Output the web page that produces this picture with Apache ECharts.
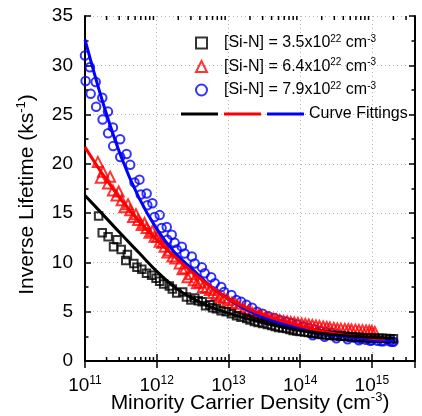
<!DOCTYPE html>
<html>
<head>
<meta charset="utf-8">
<script src="https://cdn.jsdelivr.net/npm/echarts@6/dist/echarts.min.js"></script>
<style>
html, body { margin: 0; padding: 0; background: #fff; }
#main { width: 422px; height: 416px; }
</style>
</head>
<body>
<div id="main"></div>
<script>
var font = '"Liberation Sans", Arial, sans-serif'

// [Si-N] concentrations (x10^22 cm^-3), one per sample
var siN = ['3.5', '6.4', '7.9']
var sampleNames = ['SiN 3.5', 'SiN 6.4', 'SiN 7.9']
var fitNames = ['Fit 3.5', 'Fit 6.4', 'Fit 7.9']
var colors = ['#000000', '#ff0000', '#0000ff']
var symbols = ['rect', 'triangle', 'circle']

// measured points: [carrier density (cm^-3), inverse lifetime (ks^-1)]
var blackPts = [
    [1.55e11, 14.7], [1.74e11, 13.0], [2.1e11, 12.6], [2.5e11, 11.6], [2.8e11, 12.3],
    [3.2e11, 11.3], [3.7e11, 10.2], [3.9e11, 10.8], [4.8e11, 9.9], [5.3e11, 9.5],
    [6.2e11, 9.3], [7.2e11, 8.9], [8.5e11, 8.7], [9.8e11, 8.4], [1.1e12, 8.1],
    [1.25e12, 7.8], [1.5e12, 7.6], [1.65e12, 7.3], [1.9e12, 6.9], [2.3e12, 7.0],
    [2.6e12, 6.5], [3.0e12, 6.2], [3.4e12, 6.4], [3.8e12, 6.1], [4.3e12, 6.0],
    [4.8e12, 5.6], [5.5e12, 5.7], [6.0e12, 5.4], [6.8e12, 5.3], [7.9e12, 5.1],
    [9.3e12, 5.0], [1.1e13, 4.8], [1.3e13, 4.6], [1.5e13, 4.45], [1.8e13, 4.3],
    [2.0e13, 4.15], [2.3e13, 4.0], [2.6e13, 3.9], [3.0e13, 3.8], [3.5e13, 3.7],
    [4.0e13, 3.6], [4.5e13, 3.5], [5.0e13, 3.4], [5.7e13, 3.35], [6.5e13, 3.3],
    [7.2e13, 3.2], [8.0e13, 3.1], [9.0e13, 3.05], [1.0e14, 3.0], [1.15e14, 2.95],
    [1.3e14, 2.9], [1.45e14, 2.85], [1.6e14, 2.8], [1.8e14, 2.75], [2.0e14, 2.7],
    [2.3e14, 2.65], [2.6e14, 2.6], [3.0e14, 2.57], [3.3e14, 2.55], [3.7e14, 2.52],
    [4.2e14, 2.5], [4.7e14, 2.47], [5.3e14, 2.45], [6.0e14, 2.42], [6.8e14, 2.4],
    [7.6e14, 2.37], [8.6e14, 2.35], [9.6e14, 2.33], [1.1e15, 2.3], [1.25e15, 2.3],
    [1.4e15, 2.3], [1.6e15, 2.27], [1.8e15, 2.25], [2.0e15, 2.25]
]
var redPts = [
    [1.51e11, 20.2], [1.66e11, 18.6], [1.78e11, 19.2], [2.09e11, 18.0], [2.24e11, 18.7],
    [2.45e11, 17.3], [2.75e11, 16.8], [2.95e11, 17.2], [3.24e11, 16.3], [3.55e11, 15.6],
    [3.98e11, 15.9], [4.27e11, 15.3], [4.68e11, 14.6], [5.13e11, 14.9], [5.5e11, 14.3],
    [6.17e11, 13.8], [6.76e11, 14.0], [7.24e11, 13.5], [7.94e11, 13.0], [8.7e11, 13.2],
    [9.33e11, 12.6], [1.02e12, 12.6], [1.1e12, 12.1], [1.2e12, 12.0], [1.29e12, 11.6],
    [1.41e12, 11.0], [1.51e12, 11.2], [1.66e12, 10.6], [1.82e12, 10.4], [2.09e12, 9.9],
    [2.29e12, 9.3], [2.5e12, 9.4], [2.69e12, 8.5], [2.95e12, 8.8], [3.3e12, 8.2],
    [3.63e12, 7.9], [3.98e12, 8.0], [4.4e12, 7.5], [4.9e12, 7.4], [5.5e12, 7.2],
    [6.1e12, 6.9], [6.76e12, 6.7], [7.6e12, 6.5], [8.7e12, 6.4], [9.8e12, 6.2],
    [1.12e13, 5.9], [1.26e13, 5.8], [1.41e13, 5.5], [1.66e13, 5.3], [1.9e13, 5.1],
    [2.14e13, 4.9], [2.63e13, 4.7], [2.9e13, 4.6], [3.3e13, 4.5], [3.7e13, 4.4],
    [4.2e13, 4.3], [4.7e13, 4.2], [5.2e13, 4.15], [5.9e13, 4.05], [6.6e13, 4.0],
    [7.4e13, 3.95], [8.3e13, 3.9], [9.3e13, 3.85], [1.05e14, 3.8], [1.18e14, 3.75],
    [1.32e14, 3.7], [1.48e14, 3.65], [1.66e14, 3.6], [1.86e14, 3.55], [2.1e14, 3.5],
    [2.35e14, 3.45], [2.6e14, 3.4], [2.95e14, 3.35], [3.3e14, 3.3], [3.7e14, 3.28],
    [4.2e14, 3.25], [4.7e14, 3.22], [5.2e14, 3.2], [5.9e14, 3.18], [6.6e14, 3.15],
    [7.4e14, 3.12], [8.3e14, 3.1], [9.2e14, 3.08], [1.0e15, 3.05], [1.1e15, 2.95]
]
var bluePts = [
    [1.0e11, 31.0], [1.02e11, 28.4], [1.17e11, 29.8], [1.2e11, 27.1], [1.41e11, 28.3],
    [1.43e11, 25.8], [1.74e11, 26.7], [1.76e11, 24.5], [2.09e11, 25.3], [2.1e11, 23.1],
    [2.45e11, 23.7], [2.47e11, 21.8], [3.09e11, 22.5], [3.1e11, 20.7], [3.8e11, 21.0],
    [4.27e11, 19.9], [4.9e11, 18.1], [5.75e11, 18.4], [6.0e11, 16.9], [7.24e11, 17.0],
    [7.4e11, 15.8], [8.7e11, 16.0], [9.3e11, 14.6], [1.1e12, 14.8], [1.17e12, 13.5],
    [1.38e12, 13.6], [1.41e12, 12.3], [1.62e12, 12.8], [1.78e12, 12.0], [1.9e12, 11.3],
    [2.24e12, 11.6], [2.45e12, 10.9], [3.09e12, 10.6], [3.39e12, 9.9], [4.27e12, 9.5],
    [4.68e12, 8.9], [5.75e12, 8.5], [6.46e12, 7.9], [7.94e12, 7.5], [8.7e12, 7.0],
    [1.1e13, 6.7], [1.29e13, 6.2], [1.51e13, 6.0], [1.78e13, 5.7], [2.14e13, 5.4],
    [2.51e13, 5.0], [3.0e13, 4.8], [3.6e13, 4.55], [4.4e13, 4.35], [5.2e13, 4.15],
    [6.3e13, 4.0], [7.6e13, 3.85], [9.1e13, 3.7], [1.1e14, 3.5], [1.32e14, 3.35],
    [1.58e14, 3.2], [1.9e14, 3.05], [2.3e14, 2.95], [2.75e14, 2.85], [3.3e14, 2.7],
    [4.0e14, 2.55], [4.8e14, 2.45], [5.75e14, 2.35], [6.9e14, 2.25], [8.3e14, 2.15],
    [1.0e15, 2.1], [1.2e15, 2.05], [1.45e15, 2.0], [1.78e15, 2.0], [2.0e15, 1.95],
    [1.5e14, 2.6], [2.2e14, 2.45], [3.2e14, 2.3], [4.6e14, 2.2], [6.6e14, 2.1],
    [9.5e14, 2.05], [1.35e15, 2.0], [1.9e15, 1.95]
]

// fitted curves
var blackFit = [
    [1e11, 16.8], [1.78e11, 14.85], [3.16e11, 12.9], [5.62e11, 11.0], [1e12, 9.1],
    [1.78e12, 7.5], [3.16e12, 6.35], [5.62e12, 5.5], [1e13, 4.85], [1.78e13, 4.3],
    [3.16e13, 3.85], [5.62e13, 3.45], [1e14, 3.1], [1.78e14, 2.85], [3.16e14, 2.65],
    [5.62e14, 2.5], [1e15, 2.4], [2e15, 2.3]
]
var redFit = [
    [1e11, 21.7], [1.78e11, 18.9], [3.16e11, 16.4], [5.62e11, 14.2], [1e12, 12.3],
    [1.78e12, 10.6], [3.16e12, 9.0], [5.62e12, 7.6], [1e13, 6.3], [1.78e13, 5.4],
    [3.16e13, 4.65], [5.62e13, 4.05], [1e14, 3.55], [1.78e14, 3.1], [3.16e14, 2.75],
    [5.62e14, 2.5], [1e15, 2.3], [1.55e15, 2.2]
]
var blueFit = [
    [1e11, 32.6], [1.78e11, 26.2], [3.16e11, 20.8], [5.62e11, 16.6], [1e12, 13.4],
    [1.78e12, 11.0], [3.16e12, 9.3], [5.62e12, 7.6], [1e13, 6.3], [1.78e13, 5.2],
    [3.16e13, 4.4], [5.62e13, 3.8], [1e14, 3.3], [1.78e14, 2.9], [3.16e14, 2.6],
    [5.62e14, 2.35], [1e15, 2.15], [2e15, 2.0]
]

var xMin = 1e11
var xMax = 4e15
var yMin = 0
var yMax = 35

// minor ticks of the log axis: 2..9 x 10^n
var minorN = []
for (var d = 11; d <= 15; d++) {
    for (var k = 2; k <= 9; k++) {
        if (k * Math.pow(10, d) < xMax) {
            minorN.push([k * Math.pow(10, d), 0])
        }
    }
}

var pts = [blackPts, redPts, bluePts]
var fits = [blackFit, redFit, blueFit]
var sizes = [7.5, 10, 8.5]

var supRich = function (size, lh, supSize) {
    return {
        t: {fontFamily: font, fontSize: size, color: '#000', lineHeight: lh},
        s: {fontFamily: font, fontSize: supSize, color: '#000', verticalAlign: 'top', lineHeight: 3},
        p: {width: 12, lineHeight: lh},
    }
}

var renderMinor = function (params, api) {
    var n = api.value(0)
    var b = api.coord([n, yMin])
    var t = api.coord([n, yMax])
    var st = {stroke: '#000', lineWidth: 1.5}
    return {
        type: 'group',
        children: [
            {type: 'line', shape: {x1: b[0], y1: b[1], x2: b[0], y2: b[1] - 4}, style: st},
            {type: 'line', shape: {x1: t[0], y1: t[1], x2: t[0], y2: t[1] + 4}, style: st},
        ]
    }
}

var axisLine = {lineStyle: {color: '#000', width: 2}}
var dotted = {show: true, lineStyle: {color: '#b4b4b4', width: 1, type: [1, 3]}}

var series = []
for (var i = 2; i >= 0; i--) {
    series.push({
        name: sampleNames[i],
        type: 'scatter',
        data: pts[i],
        symbol: symbols[i],
        symbolSize: sizes[i],
        itemStyle: {color: 'rgba(255,255,255,0)', borderColor: colors[i], borderWidth: 2},
        z: 2,
    })
}
for (var i = 2; i >= 0; i--) {
    series.push({
        name: fitNames[i],
        type: 'line',
        data: fits[i],
        smooth: 0.4,
        symbol: 'none',
        lineStyle: {color: colors[i], width: 3},
        itemStyle: {color: colors[i]},
        z: 3,
    })
}
series.push({
    type: 'custom',
    data: minorN,
    renderItem: renderMinor,
    encode: {x: 0, y: 1},
    silent: true,
    clip: false,
    z: 4,
})

var element = document.querySelector('#main')
var myChart = echarts.init(element)

var option = {
    animation: false,
    backgroundColor: '#fff',
    grid: {left: 85, right: 7, top: 16, bottom: 55, outerBoundsMode: 'none', containLabel: false},
    legend: [
        {
            data: sampleNames,
            orient: 'vertical',
            left: 195,
            top: 34,
            padding: 0,
            itemWidth: 11,
            itemHeight: 11,
            itemGap: 6.5,
            formatter: function (name) {
                var c = siN[sampleNames.indexOf(name)]
                return '{p|}{t|[Si-N] = ' + c + 'x10}{s|22}{t| cm}{s|-3}'
            },
            textStyle: {rich: supRich(16, 18, 10)},
        },
        {
            data: fitNames,
            orient: 'horizontal',
            left: 181,
            top: 105,
            padding: 0,
            icon: 'rect',
            itemWidth: 37,
            itemHeight: 3,
            itemGap: 1,
            formatter: function (name) {
                return name == fitNames[2] ? 'Curve Fittings' : ''
            },
            textStyle: {fontFamily: font, fontSize: 16, color: '#000', lineHeight: 18},
        },
    ],
    xAxis: [
        {
            type: 'log',
            logBase: 10,
            min: xMin,
            max: xMax,
            position: 'bottom',
            axisLine: axisLine,
            axisTick: {inside: true, length: 7, lineStyle: {color: '#000', width: 1.5}},
            axisLabel: {
                margin: 14,
                formatter: function (v) {
                    var e = Math.log10(v)
                    var r = Math.round(e)
                    if (Math.abs(e - r) > 0.01) {
                        return ''
                    }
                    return '{t|10}{s|' + r + '}'
                },
                rich: supRich(19, 22, 12),
            },
            splitLine: dotted,
            name: '{t|Minority Carrier Density (cm}{s|-3}{t|)}',
            nameLocation: 'middle',
            nameGap: 30,
            nameMoveOverlap: false,
            nameTextStyle: {rich: supRich(21, 24, 13)},
        },
        {
            type: 'log',
            logBase: 10,
            min: xMin,
            max: xMax,
            position: 'top',
            axisLine: axisLine,
            axisTick: {inside: true, length: 7, lineStyle: {color: '#000', width: 1.5}},
            axisLabel: {show: false},
            splitLine: {show: false},
        },
    ],
    yAxis: [
        {
            type: 'value',
            min: yMin,
            max: yMax,
            interval: 5,
            axisLine: axisLine,
            axisTick: {inside: true, length: 6, lineStyle: {color: '#000', width: 1.5}},
            minorTick: {show: true, splitNumber: 2, length: 3.5, lineStyle: {color: '#000', width: 1.5}},
            axisLabel: {margin: 12, fontFamily: font, fontSize: 19, color: '#000'},
            splitLine: dotted,
            name: '{t|Inverse Lifetime (ks}{s|-1}{t|)}',
            nameLocation: 'middle',
            nameGap: 46,
            nameMoveOverlap: false,
            nameTextStyle: {rich: supRich(21, 24, 13), padding: [0, 12, 0, 0]},
        },
        {
            type: 'value',
            position: 'right',
            min: yMin,
            max: yMax,
            interval: 5,
            axisLine: axisLine,
            axisTick: {inside: true, length: 6, lineStyle: {color: '#000', width: 1.5}},
            minorTick: {show: true, splitNumber: 2, length: 3.5, lineStyle: {color: '#000', width: 1.5}},
            axisLabel: {show: false},
            splitLine: {show: false},
        },
    ],
    series: series,
}

myChart.setOption(option)
</script>
</body>
</html>
